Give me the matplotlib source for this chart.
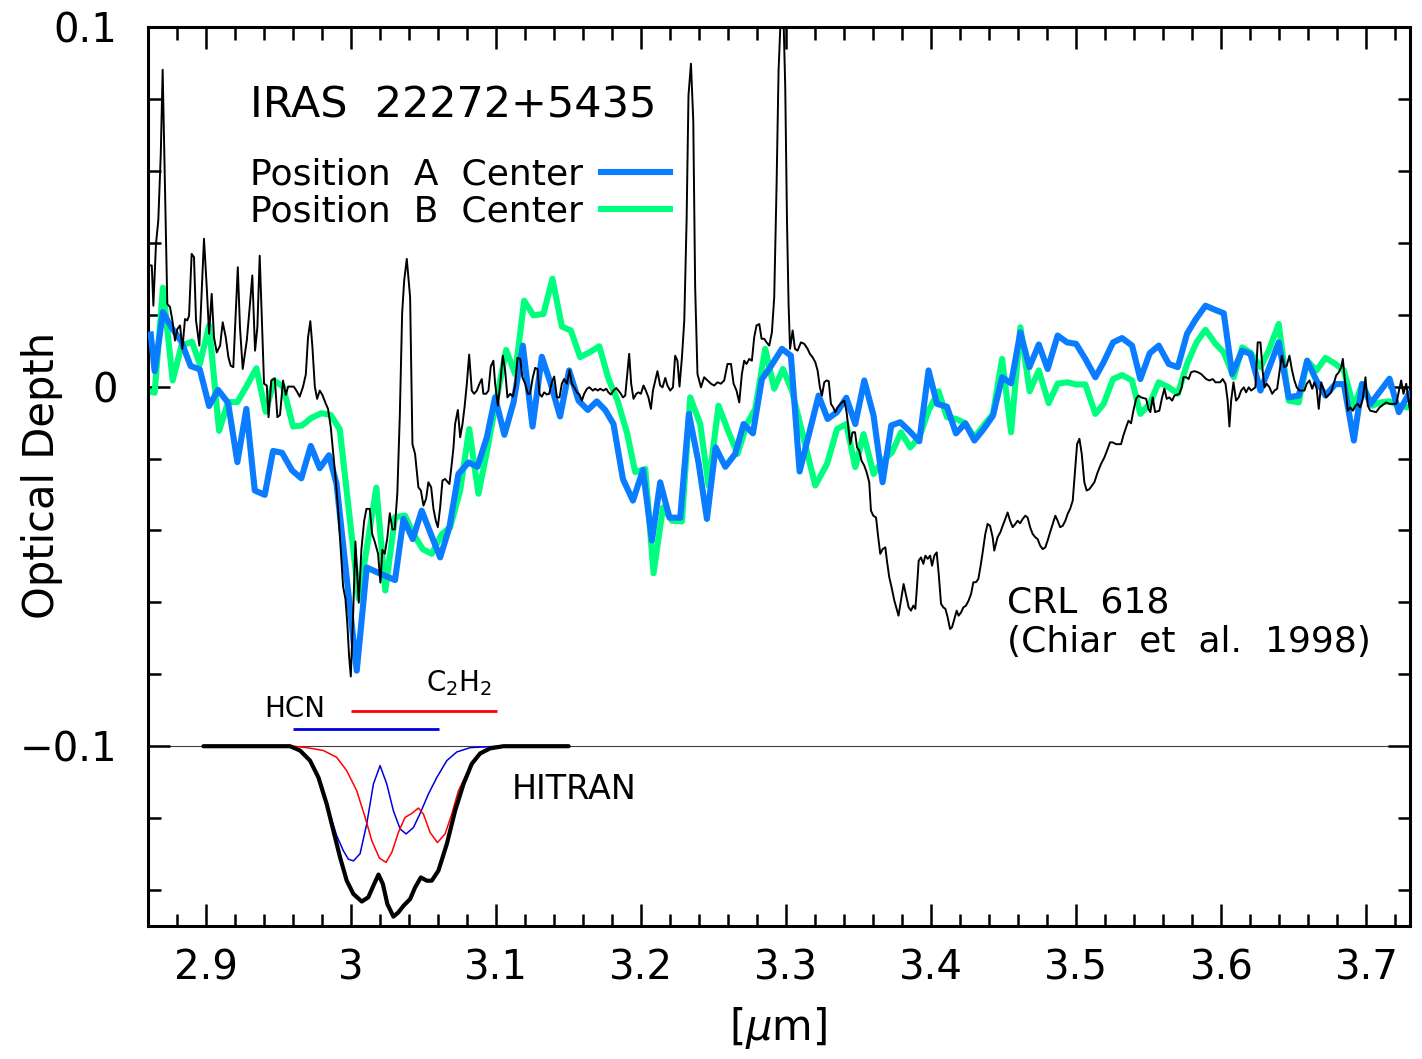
import matplotlib
matplotlib.use('Agg')
import matplotlib.pyplot as plt
from matplotlib.ticker import MultipleLocator
from matplotlib.lines import Line2D

# Position A center (um, optical depth)
wave_a = [2.8619, 2.8646, 2.8703, 2.8761, 2.8830, 2.8894, 2.8957, 2.9021, 2.9083, 2.9152,
          2.9216, 2.9278, 2.9336, 2.9405, 2.9462, 2.9524, 2.9593, 2.9657, 2.9722, 2.9784,
          2.9848, 2.9900, 3.0039, 3.0108, 3.0200, 3.0303, 3.0361, 3.0425, 3.0487, 3.0550,
          3.0614, 3.0678, 3.0740, 3.0809, 3.0871, 3.0936, 3.0993, 3.1057, 3.1120, 3.1184,
          3.1251, 3.1315, 3.1377, 3.1441, 3.1503, 3.1568, 3.1632, 3.1694, 3.1752, 3.1809,
          3.1874, 3.1943, 3.2012, 3.2074, 3.2131, 3.2195, 3.2269, 3.2329, 3.2395, 3.2453,
          3.2513, 3.2580, 3.2648, 3.2706, 3.2770, 3.2832, 3.2890, 3.2970, 3.3032, 3.3092,
          3.3223, 3.3285, 3.3350, 3.3414, 3.3476, 3.3538, 3.3602, 3.3664, 3.3724, 3.3786,
          3.3850, 3.3917, 3.3981, 3.4039, 3.4108, 3.4170, 3.4234, 3.4297, 3.4361, 3.4425,
          3.4488, 3.4550, 3.4614, 3.4676, 3.4741, 3.4802, 3.4871, 3.4936, 3.4998, 3.5062,
          3.5131, 3.5188, 3.5253, 3.5315, 3.5384, 3.5441, 3.5506, 3.5568, 3.5637, 3.5699,
          3.5763, 3.5821, 3.5890, 3.5959, 3.6016, 3.6074, 3.6143, 3.6200, 3.6269, 3.6326,
          3.6395, 3.6464, 3.6533, 3.6591, 3.6655, 3.6717, 3.6786, 3.6844, 3.6913, 3.6970,
          3.7028, 3.7097, 3.7159, 3.7223, 3.7292]
tau_a = [0.0145, 0.0043, 0.0207, 0.0165, 0.0125, 0.0057, 0.0048, -0.0054, -0.0009, -0.0045,
         -0.0210, -0.0062, -0.0289, -0.0301, -0.0179, -0.0184, -0.0233, -0.0255, -0.0165, -0.0227,
         -0.0191, -0.0271, -0.0790, -0.0503, -0.0520, -0.0538, -0.0368, -0.0424, -0.0345, -0.0410,
         -0.0475, -0.0391, -0.0243, -0.0211, -0.0223, -0.0141, -0.0030, -0.0134, -0.0044, 0.0114,
         -0.0111, 0.0083, 0.0007, -0.0083, 0.0045, -0.0039, -0.0065, -0.0041, -0.0065, -0.0104,
         -0.0257, -0.0317, -0.0232, -0.0428, -0.0266, -0.0364, -0.0365, -0.0076, -0.0211, -0.0368,
         -0.0169, -0.0223, -0.0187, -0.0104, -0.0130, 0.0021, 0.0054, 0.0105, 0.0086, -0.0236,
         -0.0025, -0.0090, -0.0071, -0.0031, -0.0104, 0.0017, -0.0081, -0.0266, -0.0108, -0.0099,
         -0.0124, -0.0152, 0.0045, -0.0048, -0.0056, -0.0130, -0.0102, -0.0150, -0.0118, -0.0081,
         0.0026, 0.0009, 0.0151, 0.0054, 0.0117, 0.0049, 0.0142, 0.0123, 0.0119, 0.0077,
         0.0026, 0.0068, 0.0123, 0.0135, 0.0114, 0.0021, 0.0093, 0.0114, 0.0063, 0.0054,
         0.0147, 0.0186, 0.0225, 0.0213, 0.0204, 0.0035, 0.0100, 0.0091, -0.0011, 0.0049,
         0.0123, -0.0030, -0.0025, 0.0072, 0.0017, -0.0025, 0.0007, 0.0007, -0.0150, 0.0007,
         -0.0048, -0.0011, 0.0022, -0.0071, -0.0020]

# Position B center
wave_b = [2.8619, 2.8646, 2.8703, 2.8770, 2.8830, 2.8903, 2.8957, 2.9021, 2.9090, 2.9152,
          2.9216, 2.9278, 2.9347, 2.9411, 2.9469, 2.9531, 2.9600, 2.9662, 2.9726, 2.9795,
          2.9860, 2.9922, 3.0053, 3.0174, 3.0236, 3.0303, 3.0372, 3.0430, 3.0494, 3.0556,
          3.0626, 3.0683, 3.0752, 3.0814, 3.0878, 3.0940, 3.1005, 3.1069, 3.1131, 3.1193,
          3.1257, 3.1326, 3.1388, 3.1453, 3.1515, 3.1579, 3.1643, 3.1711, 3.1775, 3.1837,
          3.1901, 3.1959, 3.2028, 3.2085, 3.2150, 3.2212, 3.2281, 3.2338, 3.2407, 3.2464,
          3.2533, 3.2598, 3.2664, 3.2729, 3.2786, 3.2855, 3.2917, 3.2977, 3.3039, 3.3200,
          3.3281, 3.3350, 3.3414, 3.3476, 3.3533, 3.3602, 3.3664, 3.3729, 3.3791, 3.3855,
          3.3917, 3.3981, 3.4050, 3.4108, 3.4172, 3.4234, 3.4297, 3.4361, 3.4425, 3.4488,
          3.4550, 3.4614, 3.4678, 3.4741, 3.4809, 3.4871, 3.4936, 3.5000, 3.5062, 3.5131,
          3.5188, 3.5253, 3.5315, 3.5384, 3.5441, 3.5506, 3.5568, 3.5637, 3.5699, 3.5763,
          3.5828, 3.5890, 3.5959, 3.6016, 3.6085, 3.6143, 3.6200, 3.6269, 3.6326, 3.6395,
          3.6464, 3.6533, 3.6591, 3.6655, 3.6717, 3.6786, 3.6844, 3.6913, 3.6970, 3.7039,
          3.7097, 3.7159, 3.7223, 3.7292]
tau_b = [-0.0014, -0.0017, 0.0275, 0.0017, 0.0113, 0.0125, 0.0062, 0.0170, -0.0123, -0.0043,
         -0.0043, 0.0000, 0.0051, -0.0070, 0.0017, 0.0000, -0.0111, -0.0108, -0.0087, -0.0074,
         -0.0079, -0.0119, -0.0590, -0.0281, -0.0567, -0.0363, -0.0359, -0.0410, -0.0452, -0.0465,
         -0.0410, -0.0391, -0.0289, -0.0118, -0.0298, -0.0173, -0.0030, 0.0102, 0.0035, 0.0239,
         0.0198, 0.0202, 0.0300, 0.0167, 0.0156, 0.0082, 0.0095, 0.0112, 0.0021, -0.0039,
         -0.0127, -0.0238, -0.0229, -0.0519, -0.0336, -0.0373, -0.0375, -0.0030, -0.0104, -0.0275,
         -0.0053, -0.0122, -0.0187, -0.0104, -0.0062, 0.0105, -0.0006, 0.0049, -0.0011, -0.0275,
         -0.0215, -0.0118, -0.0104, -0.0224, -0.0132, -0.0243, -0.0206, -0.0183, -0.0127, -0.0169,
         -0.0141, -0.0067, -0.0013, -0.0085, -0.0090, -0.0102, -0.0141, -0.0108, -0.0076, 0.0077,
         -0.0127, 0.0165, -0.0013, 0.0045, -0.0046, 0.0008, 0.0012, 0.0006, 0.0006, -0.0076,
         -0.0048, 0.0021, 0.0032, 0.0017, -0.0076, -0.0048, 0.0012, -0.0002, -0.0020, 0.0063,
         0.0123, 0.0158, 0.0119, 0.0095, 0.0026, 0.0109, 0.0095, 0.0054, 0.0100, 0.0174,
         -0.0039, -0.0044, 0.0072, 0.0045, 0.0080, 0.0063, 0.0045, -0.0058, 0.0007, -0.0053,
         -0.0044, -0.0041, -0.0053, -0.0058]

# CRL 618 (Chiar et al. 1998)
wave_crl = [2.8602, 2.8626, 2.8637, 2.8655, 2.8671, 2.8688, 2.8701, 2.8717, 2.8733, 2.8752,
            2.8768, 2.8786, 2.8802, 2.8821, 2.8837, 2.8855, 2.8871, 2.8883, 2.8901, 2.8917,
            2.8931, 2.8954, 2.8986, 2.9005, 2.9021, 2.9039, 2.9055, 2.9074, 2.9097, 2.9115,
            2.9136, 2.9154, 2.9170, 2.9188, 2.9219, 2.9234, 2.9253, 2.9281, 2.9303, 2.9319,
            2.9338, 2.9354, 2.9370, 2.9388, 2.9400, 2.9419, 2.9431, 2.9450, 2.9474, 2.9492,
            2.9510, 2.9531, 2.9550, 2.9566, 2.9584, 2.9605, 2.9623, 2.9646, 2.9669, 2.9688,
            2.9703, 2.9719, 2.9733, 2.9750, 2.9766, 2.9784, 2.9802, 2.9823, 2.9841, 2.9860,
            2.9876, 2.9892, 2.9910, 2.9929, 2.9945, 2.9961, 2.9974, 2.9986, 2.9998, 3.0014,
            3.0030, 3.0041, 3.0053, 3.0071, 3.0090, 3.0106, 3.0129, 3.0145, 3.0163, 3.0186,
            3.0202, 3.0216, 3.0232, 3.0250, 3.0267, 3.0285, 3.0301, 3.0319, 3.0336, 3.0352,
            3.0366, 3.0384, 3.0407, 3.0423, 3.0441, 3.0464, 3.0481, 3.0499, 3.0517, 3.0533,
            3.0552, 3.0568, 3.0584, 3.0598, 3.0614, 3.0630, 3.0648, 3.0678, 3.0694, 3.0706,
            3.0717, 3.0736, 3.0752, 3.0768, 3.0782, 3.0798, 3.0814, 3.0832, 3.0848, 3.0867,
            3.0885, 3.0901, 3.0912, 3.0931, 3.0947, 3.0963, 3.0981, 3.0993, 3.1012, 3.1028,
            3.1046, 3.1062, 3.1078, 3.1097, 3.1115, 3.1131, 3.1147, 3.1166, 3.1181, 3.1200,
            3.1219, 3.1234, 3.1253, 3.1269, 3.1285, 3.1299, 3.1315, 3.1331, 3.1350, 3.1366,
            3.1384, 3.1400, 3.1419, 3.1437, 3.1453, 3.1469, 3.1488, 3.1506, 3.1522, 3.1538,
            3.1557, 3.1574, 3.1591, 3.1607, 3.1626, 3.1643, 3.1667, 3.1683, 3.1701, 3.1717,
            3.1740, 3.1759, 3.1774, 3.1791, 3.1809, 3.1828, 3.1843, 3.1860, 3.1874, 3.1890,
            3.1901, 3.1917, 3.1931, 3.1947, 3.1966, 3.1981, 3.1998, 3.2016, 3.2032, 3.2050,
            3.2067, 3.2081, 3.2097, 3.2112, 3.2131, 3.2147, 3.2166, 3.2181, 3.2200, 3.2219,
            3.2234, 3.2250, 3.2264, 3.2281, 3.2297, 3.2313, 3.2326, 3.2343, 3.2359, 3.2372,
            3.2388, 3.2412, 3.2434, 3.2457, 3.2481, 3.2503, 3.2526, 3.2549, 3.2572, 3.2595,
            3.2619, 3.2637, 3.2657, 3.2676, 3.2694, 3.2710, 3.2726, 3.2745, 3.2763, 3.2779,
            3.2795, 3.2814, 3.2830, 3.2848, 3.2864, 3.2883, 3.2901, 3.2917, 3.2933, 3.2947,
            3.2963, 3.2979, 3.2993, 3.3005, 3.3016, 3.3026, 3.3044, 3.3060, 3.3078, 3.3101,
            3.3124, 3.3147, 3.3163, 3.3181, 3.3200, 3.3216, 3.3232, 3.3246, 3.3262, 3.3278,
            3.3293, 3.3308, 3.3324, 3.3338, 3.3354, 3.3384, 3.3400, 3.3416, 3.3441, 3.3457,
            3.3474, 3.3488, 3.3503, 3.3519, 3.3538, 3.3554, 3.3572, 3.3584, 3.3600, 3.3619,
            3.3634, 3.3648, 3.3664, 3.3683, 3.3694, 3.3710, 3.3726, 3.3745, 3.3761, 3.3774,
            3.3791, 3.3809, 3.3826, 3.3844, 3.3860, 3.3876, 3.3890, 3.3901, 3.3913, 3.3929,
            3.3945, 3.3959, 3.3975, 3.3992, 3.4005, 3.4021, 3.4037, 3.4051, 3.4067, 3.4083,
            3.4097, 3.4113, 3.4129, 3.4143, 3.4159, 3.4175, 3.4188, 3.4205, 3.4221, 3.4239,
            3.4257, 3.4274, 3.4290, 3.4308, 3.4324, 3.4338, 3.4354, 3.4372, 3.4388, 3.4405,
            3.4423, 3.4434, 3.4457, 3.4476, 3.4492, 3.4510, 3.4526, 3.4543, 3.4561, 3.4579,
            3.4595, 3.4612, 3.4630, 3.4648, 3.4664, 3.4681, 3.4699, 3.4717, 3.4733, 3.4750,
            3.4768, 3.4786, 3.4802, 3.4819, 3.4837, 3.4855, 3.4871, 3.4888, 3.4906, 3.4924,
            3.4940, 3.4957, 3.4975, 3.4991, 3.5005, 3.5021, 3.5037, 3.5055, 3.5071, 3.5090,
            3.5108, 3.5124, 3.5147, 3.5170, 3.5193, 3.5216, 3.5232, 3.5250, 3.5274, 3.5308,
            3.5324, 3.5343, 3.5359, 3.5377, 3.5393, 3.5412, 3.5428, 3.5446, 3.5481, 3.5497,
            3.5510, 3.5526, 3.5543, 3.5572, 3.5591, 3.5607, 3.5623, 3.5641, 3.5660, 3.5676,
            3.5710, 3.5726, 3.5738, 3.5757, 3.5774, 3.5791, 3.5814, 3.5837, 3.5860, 3.5895,
            3.5917, 3.5940, 3.5959, 3.5991, 3.6009, 3.6028, 3.6043, 3.6055, 3.6067, 3.6083,
            3.6101, 3.6119, 3.6136, 3.6154, 3.6170, 3.6188, 3.6205, 3.6234, 3.6250, 3.6269,
            3.6285, 3.6297, 3.6312, 3.6331, 3.6350, 3.6366, 3.6384, 3.6400, 3.6416, 3.6434,
            3.6450, 3.6469, 3.6485, 3.6503, 3.6519, 3.6538, 3.6572, 3.6588, 3.6607, 3.6626,
            3.6641, 3.6657, 3.6671, 3.6688, 3.6703, 3.6722, 3.6756, 3.6791, 3.6809, 3.6826,
            3.6837, 3.6853, 3.6871, 3.6888, 3.6906, 3.6924, 3.6940, 3.6957, 3.6975, 3.6993,
            3.7009, 3.7026, 3.7067, 3.7090, 3.7136, 3.7159, 3.7205, 3.7239, 3.7255, 3.7274,
            3.7297]
tau_crl = [0.0337, 0.0337, 0.0225, 0.0397, 0.0462, 0.0647, 0.0881, 0.0554, 0.0230, 0.0221,
           0.0184, 0.0128, 0.0160, 0.0170, 0.0105, 0.0188, 0.0184, 0.0197, 0.0369, 0.0360,
           0.0184, 0.0114, 0.0411, 0.0276, 0.0147, 0.0258, 0.0137, 0.0095, 0.0114, 0.0179,
           0.0137, 0.0082, 0.0058, 0.0054, 0.0332, 0.0165, 0.0049, 0.0128, 0.0230, 0.0309,
           0.0100, 0.0165, 0.0364, 0.0147, 0.0008, 0.0003, -0.0085, 0.0017, 0.0023, -0.0085,
           -0.0079, 0.0017, -0.0023, 0.0000, 0.0000, 0.0000, -0.0011, -0.0028, 0.0000, 0.0034,
           0.0136, 0.0182, 0.0113, 0.0000, -0.0034, -0.0011, -0.0023, -0.0045, -0.0062, -0.0113,
           -0.0182, -0.0250, -0.0340, -0.0454, -0.0556, -0.0590, -0.0658, -0.0749, -0.0806, -0.0635,
           -0.0431, -0.0511, -0.0601, -0.0454, -0.0374, -0.0340, -0.0340, -0.0409, -0.0431, -0.0465,
           -0.0545, -0.0454, -0.0465, -0.0420, -0.0352, -0.0397, -0.0397, -0.0295, -0.0079, 0.0204,
           0.0295, 0.0355, 0.0248, -0.0160, -0.0187, -0.0280, -0.0289, -0.0331, -0.0312, -0.0266,
           -0.0280, -0.0340, -0.0373, -0.0391, -0.0336, -0.0261, -0.0257, -0.0271, -0.0215, -0.0169,
           -0.0104, -0.0065, -0.0141, -0.0104, -0.0058, 0.0008, 0.0089, -0.0011, -0.0020, -0.0011,
           0.0008, 0.0021, -0.0020, -0.0020, -0.0011, 0.0056, 0.0072, 0.0008, -0.0053, 0.0008,
           0.0086, 0.0045, -0.0030, -0.0020, -0.0028, 0.0003, 0.0080, 0.0077, 0.0026, 0.0008,
           -0.0020, -0.0020, 0.0026, 0.0052, 0.0049, -0.0020, -0.0028, -0.0016, -0.0022, -0.0020,
           0.0012, 0.0028, -0.0030, -0.0030, 0.0008, 0.0021, 0.0008, 0.0046, 0.0008, -0.0002,
           -0.0016, -0.0022, -0.0039, -0.0020, -0.0006, -0.0002, -0.0011, -0.0006, -0.0011, -0.0006,
           -0.0011, -0.0006, -0.0016, -0.0022, -0.0011, -0.0004, -0.0011, -0.0020, -0.0030, -0.0025,
           0.0021, 0.0091, 0.0008, -0.0034, -0.0020, -0.0016, -0.0020, 0.0003, -0.0011, -0.0030,
           -0.0062, -0.0011, 0.0017, 0.0043, 0.0003, -0.0002, 0.0024, 0.0003, -0.0011, -0.0002,
           0.0086, 0.0072, 0.0000, 0.0082, 0.0184, 0.0462, 0.0810, 0.0898, 0.0740, 0.0276,
           0.0035, -0.0002, 0.0026, 0.0017, 0.0008, 0.0003, 0.0012, 0.0008, 0.0017, 0.0063,
           0.0063, 0.0008, -0.0011, -0.0044, 0.0035, 0.0072, 0.0063, 0.0077, 0.0072, 0.0137,
           0.0170, 0.0174, 0.0133, 0.0133, 0.0123, 0.0114, 0.0151, 0.0248, 0.0554, 0.0879,
           0.1040, 0.1060, 0.0833, 0.0462, 0.0230, 0.0105, 0.0156, 0.0105, 0.0100, 0.0123,
           0.0119, 0.0105, 0.0091, 0.0082, 0.0068, 0.0045, -0.0002, -0.0025, 0.0012, 0.0017,
           0.0015, -0.0048, -0.0058, -0.0071, -0.0058, -0.0044, -0.0039, -0.0071, -0.0160, -0.0127,
           -0.0127, -0.0169, -0.0178, -0.0206, -0.0220, -0.0238, -0.0266, -0.0345, -0.0359, -0.0364,
           -0.0419, -0.0465, -0.0452, -0.0447, -0.0484, -0.0530, -0.0558, -0.0595, -0.0618, -0.0637,
           -0.0595, -0.0549, -0.0581, -0.0614, -0.0623, -0.0609, -0.0618, -0.0558, -0.0484, -0.0475,
           -0.0493, -0.0470, -0.0479, -0.0470, -0.0498, -0.0470, -0.0461, -0.0521, -0.0604, -0.0614,
           -0.0618, -0.0642, -0.0674, -0.0669, -0.0646, -0.0623, -0.0637, -0.0628, -0.0614, -0.0609,
           -0.0595, -0.0577, -0.0544, -0.0544, -0.0535, -0.0503, -0.0461, -0.0410, -0.0382, -0.0387,
           -0.0419, -0.0456, -0.0419, -0.0405, -0.0387, -0.0368, -0.0350, -0.0373, -0.0391, -0.0382,
           -0.0373, -0.0380, -0.0368, -0.0359, -0.0364, -0.0391, -0.0410, -0.0419, -0.0424, -0.0442,
           -0.0452, -0.0447, -0.0428, -0.0405, -0.0382, -0.0359, -0.0373, -0.0391, -0.0387, -0.0373,
           -0.0354, -0.0340, -0.0317, -0.0234, -0.0160, -0.0145, -0.0187, -0.0266, -0.0289, -0.0285,
           -0.0275, -0.0266, -0.0238, -0.0215, -0.0197, -0.0173, -0.0155, -0.0155, -0.0160, -0.0160,
           -0.0136, -0.0113, -0.0095, -0.0102, -0.0067, -0.0034, -0.0025, -0.0030, -0.0034, -0.0062,
           -0.0071, -0.0030, -0.0071, -0.0067, -0.0030, -0.0006, -0.0034, -0.0030, -0.0039, -0.0025,
           -0.0020, -0.0002, 0.0026, 0.0026, 0.0021, 0.0040, 0.0043, 0.0040, 0.0035, 0.0021,
           0.0017, 0.0021, 0.0012, 0.0012, 0.0021, 0.0008, -0.0039, -0.0111, -0.0039, 0.0012,
           -0.0039, -0.0030, -0.0011, -0.0002, -0.0016, -0.0002, -0.0011, -0.0002, 0.0123, 0.0123,
           0.0040, -0.0002, 0.0008, -0.0002, -0.0020, -0.0011, -0.0006, 0.0040, 0.0086, 0.0054,
           0.0058, 0.0086, 0.0049, 0.0017, -0.0002, -0.0011, -0.0011, 0.0008, 0.0017, -0.0006,
           0.0012, -0.0006, -0.0062, 0.0012, -0.0006, -0.0030, -0.0016, 0.0031, 0.0040, 0.0054,
           0.0077, 0.0008, -0.0067, -0.0058, -0.0067, -0.0053, -0.0048, -0.0058, -0.0034, 0.0026,
           -0.0053, -0.0067, -0.0071, -0.0058, -0.0044, -0.0048, -0.0048, 0.0017, -0.0020, 0.0008,
           -0.0058]

# HITRAN model bands, shifted down to the -0.1 baseline
wave_sum = [2.8982, 2.9579, 2.9648, 2.9717, 2.9775, 2.9832, 2.9878, 2.9924, 2.9970, 3.0016,
            3.0074, 3.0119, 3.0159, 3.0189, 3.0219, 3.0250, 3.0292, 3.0326, 3.0361, 3.0407,
            3.0441, 3.0481, 3.0522, 3.0556, 3.0602, 3.0660, 3.0717, 3.0775, 3.0832, 3.0890,
            3.0959, 3.1051, 3.1500]
tau_sum = [-0.1000, -0.1000, -0.1012, -0.1040, -0.1087, -0.1161, -0.1235, -0.1309, -0.1374, -0.1411,
           -0.1432, -0.1420, -0.1383, -0.1357, -0.1383, -0.1439, -0.1474, -0.1462, -0.1444, -0.1425,
           -0.1393, -0.1365, -0.1374, -0.1374, -0.1346, -0.1272, -0.1180, -0.1105, -0.1049, -0.1020,
           -0.1006, -0.1000, -0.1000]
wave_hcn = [2.9580, 2.9648, 2.9717, 2.9775, 2.9832, 2.9901, 2.9947, 2.9981, 3.0016, 3.0062,
            3.0108, 3.0154, 3.0200, 3.0246, 3.0292, 3.0338, 3.0379, 3.0430, 3.0476, 3.0533,
            3.0591, 3.0660, 3.0729, 3.0821, 3.1028]
tau_hcn = [-0.1000, -0.1012, -0.1040, -0.1087, -0.1161, -0.1249, -0.1291, -0.1314, -0.1319, -0.1299,
           -0.1216, -0.1105, -0.1054, -0.1105, -0.1180, -0.1230, -0.1244, -0.1226, -0.1187, -0.1133,
           -0.1087, -0.1040, -0.1016, -0.1004, -0.1000]
wave_c2h2 = [2.9600, 2.9694, 2.9809, 2.9901, 2.9970, 3.0039, 3.0097, 3.0143, 3.0195, 3.0241,
             3.0281, 3.0326, 3.0372, 3.0418, 3.0464, 3.0499, 3.0545, 3.0595, 3.0648, 3.0694,
             3.0740, 3.0775, 3.0832, 3.0890, 3.0959, 3.1051]
tau_c2h2 = [-0.1000, -0.1004, -0.1012, -0.1031, -0.1068, -0.1124, -0.1198, -0.1263, -0.1311, -0.1323,
            -0.1295, -0.1240, -0.1198, -0.1187, -0.1172, -0.1189, -0.1240, -0.1268, -0.1244, -0.1189,
            -0.1124, -0.1095, -0.1049, -0.1020, -0.1006, -0.1000]

# wavelength ranges of the two band markers
hcn_range = [2.9602, 3.0609]
c2h2_range = [2.9998, 3.1005]

xticks = [2.9, 3.0, 3.1, 3.2, 3.3, 3.4, 3.5, 3.6, 3.7]
xticklabels = ['2.9', '3', '3.1', '3.2', '3.3', '3.4', '3.5', '3.6', '3.7']
yticks = [-0.1, 0.0, 0.1]
yticklabels = ['\u22120.1', '0', '0.1']

plt.rcParams['font.family'] = ['DejaVu Sans']
plt.rcParams['mathtext.fontset'] = 'dejavusans'

blue = '#0A7CFF'
green = '#00FF7F'

fig = plt.figure(figsize=(14.22, 10.59), dpi=100)
ax = fig.add_axes([0.10408, 0.12559, 0.88748, 0.84891])

ax.axhline(-0.1, color='#404040', lw=0.8, zorder=1)

ax.plot(wave_b, tau_b, color=green, lw=4.4, solid_joinstyle='round', zorder=2)
ax.plot(wave_a, tau_a, color=blue, lw=4.4, solid_joinstyle='round', zorder=3)
ax.plot(wave_crl, tau_crl, color='black', lw=1.4, zorder=4)

ax.plot(wave_hcn, tau_hcn, color='#0000E0', lw=1.1, zorder=2)
ax.plot(wave_c2h2, tau_c2h2, color='#FF0000', lw=1.1, zorder=2)
ax.plot(wave_sum, tau_sum, color='black', lw=3.0, solid_capstyle='round', zorder=3)

ax.hlines(-0.0952, hcn_range[0], hcn_range[1], color='#0000E0', lw=2.0)
ax.hlines(-0.0903, c2h2_range[0], c2h2_range[1], color='#FF0000', lw=2.0)

ax.set_xlim(2.86, 3.73)
ax.set_ylim(-0.15, 0.1)
ax.set_xticks(xticks)
ax.set_xticklabels(xticklabels)
ax.set_yticks(yticks)
ax.set_yticklabels(yticklabels)
ax.xaxis.set_minor_locator(MultipleLocator(0.02))
ax.yaxis.set_minor_locator(MultipleLocator(0.02))
ax.tick_params(which='both', direction='in', top=True, right=True, width=1.8)
ax.tick_params(which='major', length=16, labelsize=29)
ax.tick_params(axis='x', which='major', pad=16)
ax.tick_params(axis='y', which='major', pad=22)
ax.tick_params(which='minor', length=9)
for s in ax.spines.values():
    s.set_linewidth(2.2)

# labels and annotations
fig.text(42 / 1422, 1 - 475 / 1059, 'Optical Depth', rotation=90, ha='center', va='center', fontsize=30)
fig.text(778 / 1422, 1 - 1028 / 1059, r'[$\mu$m]', ha='center', va='center', fontsize=30)

ax.text(0.0808, 0.9132, 'IRAS  22272+5435', transform=ax.transAxes, ha='left', va='center', fontsize=31)
handles = [Line2D([], [], color=blue, lw=4.4), Line2D([], [], color=green, lw=4.4)]
ax.legend(handles, ['Position  A  Center', 'Position  B  Center'], loc='upper left',
          bbox_to_anchor=(0.0808, 0.855), markerfirst=False, frameon=False, fontsize=26,
          handlelength=1.9, handletextpad=0.5, labelspacing=0.08, borderpad=0, borderaxespad=0)

ax.text(0.6807, 0.3593, 'CRL  618', transform=ax.transAxes, ha='left', va='center', fontsize=26)
ax.text(0.6807, 0.3159, '(Chiar  et  al.  1998)', transform=ax.transAxes, ha='left', va='center', fontsize=26)
ax.text(0.2884, 0.1513, 'HITRAN', transform=ax.transAxes, ha='left', va='center', fontsize=24)
ax.text(0.1165, 0.2414, 'HCN', transform=ax.transAxes, ha='center', va='center', fontsize=20)
ax.text(0.2464, 0.2700, r'C$_2$H$_2$', transform=ax.transAxes, ha='center', va='center', fontsize=20)

fig.savefig('out.png', dpi=100)
